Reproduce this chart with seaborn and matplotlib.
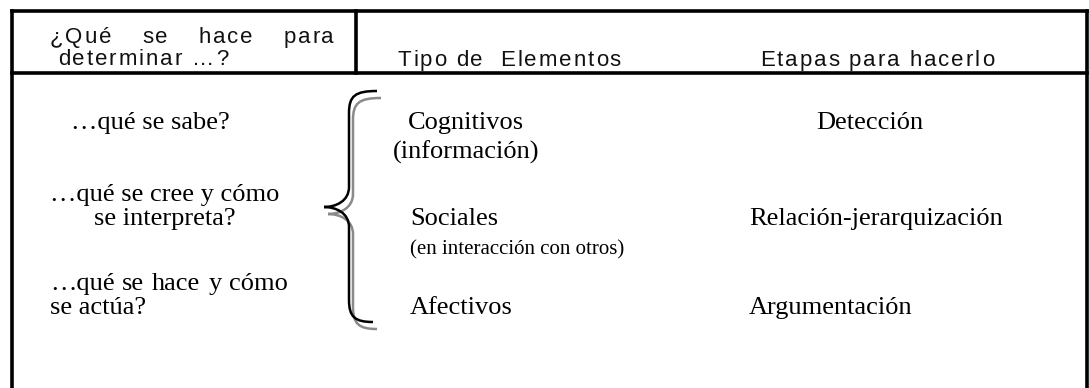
import numpy as np
import matplotlib
matplotlib.use("Agg")
from matplotlib import pyplot as plt
from matplotlib.path import Path
from matplotlib.patches import PathPatch
from matplotlib.font_manager import FontProperties
import seaborn as sns

# table content
header_left = [["¿Qué", "se", "hace", "para"], "determinar …?"]
col_headers = ["Tipo de  Elementos", "Etapas para hacerlo"]
preguntas = [["…qué se sabe?"],
             ["…qué se cree y cómo", "se interpreta?"],
             ["…qué se hace y cómo", "se actúa?"]]
elementos = ["Cognitivos", "Sociales", "Afectivos"]
elementos_nota = ["(información)", "(en interacción con otros)", ""]
etapas = ["Detección", "Relación-jerarquización", "Argumentación"]

# layout in pixels (y grows downward)
W, H = 1089, 388
row_base = [129, 225, 314]
line_gap = 24

sns.set_theme(style="white")
plt.rcParams['font.family'] = ['Liberation Serif', 'DejaVu Serif']

fig = plt.figure(figsize=(W / 100, H / 100), dpi=100)
ax = fig.add_axes([0, 0, 1, 1])
ax.set_xlim(0, W)
ax.set_ylim(H, 0)
ax.axis('off')
renderer = fig.canvas.get_renderer()

serif = dict(family=['Liberation Serif', 'DejaVu Serif'], fontsize=19, color='black', va='baseline')
serif_small = dict(serif, fontsize=15)
sans_family = ['Liberation Sans', 'DejaVu Sans']
sans = dict(family=sans_family, fontsize=16, color='#111111', va='baseline')
sans_prop = FontProperties(family=sans_family, size=16)
track = 1.9


def text_w(s):
    return renderer.get_text_width_height_descent(s, sans_prop, ismath=False)[0]


def tracked(x, y, s, draw=True):
    # sans header text drawn glyph by glyph with a little letter spacing
    ref = text_w("l")
    for i, c in enumerate(s):
        off = 0 if i == 0 else text_w(s[:i] + "l") - ref
        if draw and c != ' ':
            ax.text(x + off + i * track, y, c, ha='left', **sans)
    return text_w(s) + (len(s) - 1) * track


def justified_sans(words, x0, x1, y):
    widths = [tracked(0, 0, w, draw=False) for w in words]
    gap = (x1 - x0 - sum(widths)) / (len(words) - 1)
    x = x0
    for w, wd in zip(words, widths):
        tracked(x, y, w)
        x += wd + gap


def justified(words, x0, x1, y, style):
    items = [ax.text(x0, y, w, ha='left', **style) for w in words]
    widths = [t.get_window_extent(renderer).width for t in items]
    gap = (x1 - x0 - sum(widths)) / max(len(words) - 1, 1)
    x = x0
    for t, w in zip(items, widths):
        t.set_x(x)
        x += w + gap


def brace(dx, dy, color, lw):
    x_vert, x_tip = 349 + dx, 324 + dx
    x_top, x_bot = 377 + dx, 373 + dx
    y_top, y_mid, y_bot = 91 + dy, 207 + dy, 322 + dy
    verts = [(x_top, y_top),
             (x_vert + 6, y_top), (x_vert, y_top + 5), (x_vert, y_top + 22),
             (x_vert, y_mid - 20),
             (x_vert, y_mid - 6), (x_tip + 12, y_mid), (x_tip, y_mid),
             (x_tip + 12, y_mid), (x_vert, y_mid + 6), (x_vert, y_mid + 20),
             (x_vert, y_bot - 22),
             (x_vert, y_bot - 5), (x_vert + 6, y_bot), (x_bot, y_bot)]
    codes = [Path.MOVETO] + [Path.CURVE4] * 3 + [Path.LINETO] + [Path.CURVE4] * 6 \
        + [Path.LINETO] + [Path.CURVE4] * 3
    ax.add_patch(PathPatch(Path(verts, codes), fill=False, edgecolor=color, lw=lw,
                           capstyle='butt'))


# frame
frame = dict(color='black', lw=2.6, solid_capstyle='projecting')
ax.plot([12, 1087], [10.5, 10.5], **frame)
ax.plot([12, 1087], [73, 73], **frame)
ax.plot([12, 12], [10.5, H + 5], **frame)
ax.plot([1087, 1087], [10.5, H + 5], **frame)
ax.plot([356, 356], [10.5, 73], **frame)

# header
justified_sans(header_left[0], 50, 334, 43)
tracked(58, 65, header_left[1])
tracked(398, 66, col_headers[0])
tracked(760, 66, col_headers[1])

# left column
ax.text(150, row_base[0], preguntas[0][0], ha='center', **serif)
ax.text(165, row_base[1] - line_gap, preguntas[1][0], ha='center', **serif)
ax.text(165, row_base[1], preguntas[1][1], ha='center', **serif)
justified(preguntas[2][0].split(' '), 50, 288, row_base[2] - line_gap, serif)
ax.text(50, row_base[2], preguntas[2][1], ha='left', **serif)

# brace with shadow
brace(4, 7, '#8a8a8a', 1.8)
brace(0, 0, 'black', 1.8)

# middle column
ax.text(466, row_base[0], elementos[0], ha='center', **serif)
ax.text(466, row_base[0] + 30, elementos_nota[0], ha='center', **serif)
ax.text(410, row_base[1], elementos[1], ha='left', **serif)
ax.text(410, row_base[1] + 29, elementos_nota[1], ha='left', **serif_small)
ax.text(410, row_base[2], elementos[2], ha='left', **serif)

# right column
ax.text(870, row_base[0], etapas[0], ha='center', **serif)
ax.text(749, row_base[1], etapas[1], ha='left', **serif)
ax.text(749, row_base[2], etapas[2], ha='left', **serif)

fig.savefig("out.png", dpi=100, facecolor='white')
